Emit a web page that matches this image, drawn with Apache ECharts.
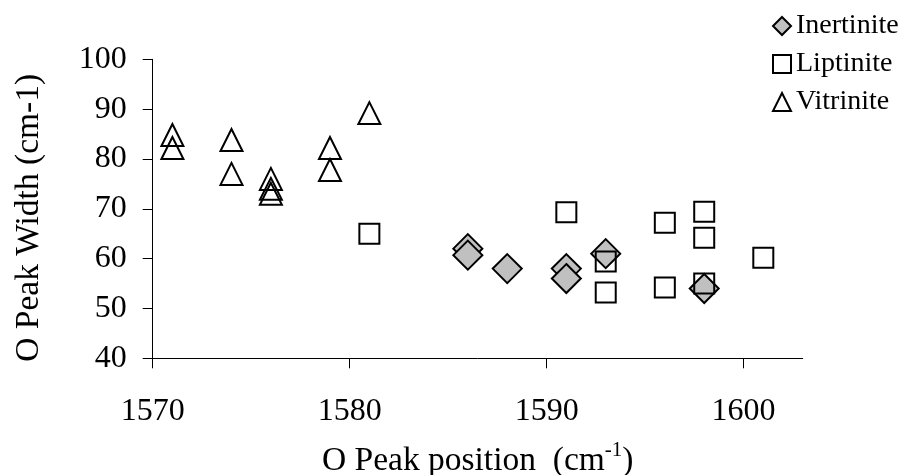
<!DOCTYPE html>
<html>
<head>
<meta charset="utf-8">
<script src="https://cdn.jsdelivr.net/npm/echarts@6/dist/echarts.min.js"></script>
<style>
html,body{margin:0;padding:0;background:#fff;}
#chart{width:906px;height:475px;}
</style>
</head>
<body>
<div id="chart"></div>
<script>
// Data: [O peak position (cm-1), O peak width (cm-1)]
var inertinite = [[1586, 62], [1586, 60.7], [1588, 58], [1591, 58], [1591, 56], [1593, 61], [1598, 54]];
var liptinite = [[1581, 65], [1591, 69.3], [1593, 59.4], [1593, 53.2], [1596, 67.2], [1596, 54.2], [1598, 69.4], [1598, 64.2], [1598, 55], [1601, 60.2]];
var vitrinite = [[1571, 84.8], [1571, 82.2], [1574, 83.8], [1574, 77], [1576, 76], [1576, 74], [1576, 73], [1579, 82.2], [1579, 77.8], [1581, 89.2]];
var seriesNames = ['Inertinite', 'Liptinite', 'Vitrinite'];
var xTicks = [1570, 1580, 1590, 1600];
var yTicks = [40, 50, 60, 70, 80, 90, 100];

var FONT = '"Liberation Serif", "Times New Roman", serif';
var chart = echarts.init(document.getElementById('chart'), null, {renderer: 'canvas'});
chart.setOption({
  backgroundColor: '#ffffff',
  animation: false,
  textStyle: {fontFamily: FONT, color: '#000'},
  grid: {left: 152.7, right: 103.3, top: 59.3, bottom: 116.7, containLabel: false, outerBoundsMode: 'none'},
  legend: {
    orient: 'vertical',
    left: 767,
    top: 7,
    itemWidth: 18,
    itemHeight: 18,
    itemGap: 10,
    data: seriesNames,
    textStyle: {fontFamily: FONT, fontSize: 28, color: '#000', lineHeight: 28}
  },
  xAxis: {
    type: 'value',
    min: xTicks[0],
    max: 1603,
    interval: 10,
    splitLine: {show: false},
    axisLine: {show: true, onZero: false, lineStyle: {color: '#000', width: 1}},
    axisTick: {show: true, inside: false, length: 10, lineStyle: {color: '#000', width: 1}},
    axisLabel: {
      margin: 37, fontSize: 32, fontFamily: FONT, color: '#000',
      formatter: function (v) { return xTicks.indexOf(v) >= 0 ? String(v) : ''; },
      showMaxLabel: false
    },
    name: '{a|O Peak position  (cm}{s|-1}{a|)}',
    nameLocation: 'middle',
    nameGap: 82,
    nameTextStyle: {
      rich: {
        a: {fontFamily: FONT, fontSize: 33.5, color: '#000', lineHeight: 38, verticalAlign: 'bottom'},
        s: {fontFamily: FONT, fontSize: 21, color: '#000', lineHeight: 12, verticalAlign: 'top'}
      }
    }
  },
  yAxis: {
    type: 'value',
    min: yTicks[0],
    max: yTicks[yTicks.length - 1],
    interval: 10,
    splitLine: {show: false},
    axisLine: {show: true, onZero: false, lineStyle: {color: '#000', width: 1}},
    axisTick: {show: true, inside: false, length: 10, lineStyle: {color: '#000', width: 1}},
    axisLabel: {margin: 26, fontSize: 32, fontFamily: FONT, color: '#000'},
    name: 'O Peak Width (cm-1)',
    nameLocation: 'middle',
    nameGap: 106,
    nameTextStyle: {fontFamily: FONT, fontSize: 33.5, color: '#000', padding: [0, 18, 0, 0]}
  },
  series: [
    {
      name: seriesNames[0], type: 'scatter', data: inertinite,
      symbol: 'diamond', symbolSize: 29,
      itemStyle: {color: '#C0C0C0', borderColor: '#000', borderWidth: 2, opacity: 1},
      z: 2
    },
    {
      name: seriesNames[1], type: 'scatter', data: liptinite,
      symbol: 'rect', symbolSize: 20,
      itemStyle: {color: 'rgba(255,255,255,0)', borderColor: '#000', borderWidth: 2, opacity: 1},
      z: 3
    },
    {
      name: seriesNames[2], type: 'scatter', data: vitrinite,
      symbol: 'triangle', symbolSize: 22,
      itemStyle: {color: 'rgba(255,255,255,0)', borderColor: '#000', borderWidth: 2, opacity: 1},
      z: 4
    }
  ]
});
</script>
</body>
</html>
